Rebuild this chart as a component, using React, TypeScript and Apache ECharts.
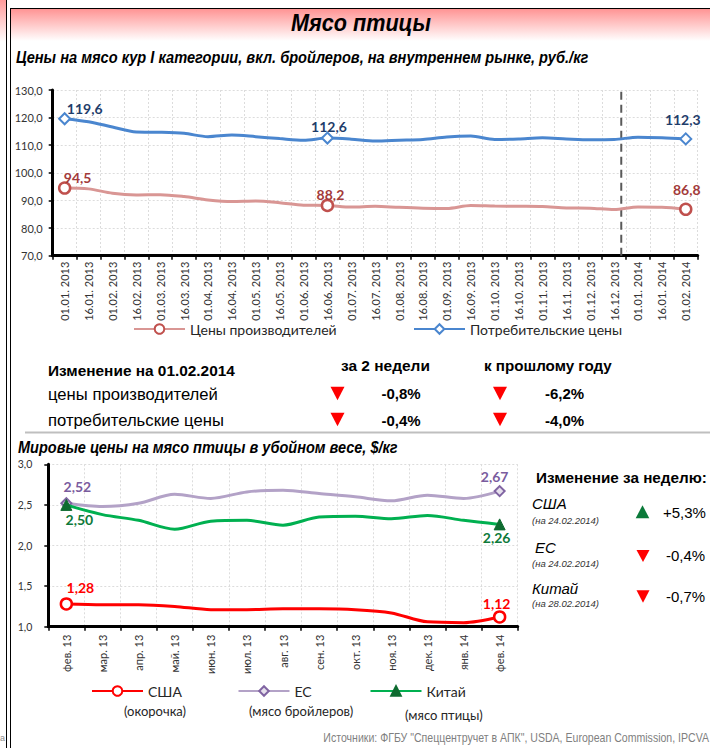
import React, { useEffect, useRef } from 'react';
import * as echarts from 'echarts';

// ---------- DATA ----------
const periodLabels = [
  '01.01. 2013', '16.01. 2013', '01.02. 2013', '16.02. 2013', '01.03. 2013', '16.03. 2013',
  '01.04. 2013', '16.04. 2013', '01.05. 2013', '16.05. 2013', '01.06. 2013', '16.06. 2013',
  '01.07. 2013', '16.07. 2013', '01.08. 2013', '16.08. 2013', '01.09. 2013', '16.09. 2013',
  '01.10. 2013', '16.10. 2013', '01.11. 2013', '16.11. 2013', '01.12. 2013', '16.12. 2013',
  '01.01. 2014', '16.01. 2014', '01.02. 2014',
];
const producerPrices = [
  94.5, 94.2, 92.6, 92.0, 92.1, 91.4, 90.2, 89.6, 89.8, 89.2, 88.3, 88.2, 87.6, 87.9,
  87.5, 87.2, 87.1, 88.2, 88.0, 87.9, 87.8, 87.3, 87.2, 86.7, 87.6, 87.5, 86.8,
];
const consumerPrices = [
  119.6, 118.5, 116.6, 114.8, 114.7, 114.3, 113.1, 113.7, 113.1, 112.4, 111.8, 112.6, 112.2, 111.5,
  111.8, 112.1, 113.0, 113.3, 112.1, 112.3, 112.7, 112.3, 112.0, 112.1, 112.9, 112.7, 112.3,
];
const dividerPosition = 23.8; // between 16.12.2013 and 01.01.2014

const monthLabels = ['фев. 13', 'мар. 13', 'апр. 13', 'май. 13', 'июн. 13', 'июл. 13', 'авг. 13',
  'сен. 13', 'окт. 13', 'ноя. 13', 'дек. 13', 'янв. 14', 'фев. 14'];
const usaPrices = [1.28, 1.27, 1.27, 1.25, 1.21, 1.21, 1.22, 1.22, 1.21, 1.17, 1.06, 1.05, 1.12];
const euPrices = [2.52, 2.48, 2.52, 2.63, 2.58, 2.66, 2.68, 2.64, 2.60, 2.55, 2.62, 2.58, 2.67];
const chinaPrices = [2.50, 2.38, 2.31, 2.20, 2.30, 2.31, 2.25, 2.35, 2.36, 2.33, 2.37, 2.31, 2.26];

const tableHeaders = ['Изменение на 01.02.2014', 'за 2 недели', 'к прошлому году'];
const tableRows = ['цены производителей', 'потребительские цены'];
const twoWeekChange = ['-0,8%', '-0,4%'];
const yearChange = ['-6,2%', '-4,0%'];

const weeklyNames = ['США', 'ЕС', 'Китай'];
const weeklyDates = ['(на 24.02.2014)', '(на 24.02.2014)', '(на 28.02.2014)'];
const weeklyChange = ['+5,3%', '-0,4%', '-0,7%'];

// ---------- STYLE ----------
const ARIAL = '"Liberation Sans", Arial, sans-serif';
const CAL = 'Lato, "Open Sans", sans-serif';

let measureCtx: CanvasRenderingContext2D | null = null;
function measure(text: string, font: string) {
  if (!measureCtx) measureCtx = document.createElement('canvas').getContext('2d');
  measureCtx!.font = font;
  return measureCtx!.measureText(text).width;
}

function txt(text: string, x: number, y: number, o: any) {
  const family = o.family || ARIAL;
  const weight = o.weight || 'normal';
  const fstyle = o.style || 'normal';
  let scaleX = 1;
  if (o.width) {
    const w = measure(text, `${fstyle} ${weight} ${o.size}px ${family}`);
    if (w > 0) scaleX = o.width / w;
  }
  const align = o.align || 'left';
  return {
    type: 'text', x, y, scaleX, silent: true, z: 10,
    style: {
      text, fill: o.color || '#000', fontSize: o.size, fontFamily: family, fontWeight: weight,
      fontStyle: fstyle, textAlign: align, align, textVerticalAlign: 'middle', verticalAlign: 'middle',
    },
  };
}

function tri(cx: number, cy: number, w: number, h: number, up: boolean, color: string) {
  const pts = up
    ? [[cx - w / 2, cy + h / 2], [cx + w / 2, cy + h / 2], [cx, cy - h / 2]]
    : [[cx - w / 2, cy - h / 2], [cx + w / 2, cy - h / 2], [cx, cy + h / 2]];
  return { type: 'polygon', silent: true, z: 10, shape: { points: pts }, style: { fill: color } };
}

function fmt(v: number, d: number) {
  return v.toFixed(d).replace('.', ',');
}

function buildData(values: number[], marks: Record<number, number[]>, color: string, digits: number) {
  return values.map((v, i) =>
    marks[i]
      ? {
          value: v,
          label: {
            show: true, position: 'inside', offset: marks[i], color, fontFamily: CAL,
            fontWeight: 'bold', fontSize: 14, textBorderWidth: 0,
            formatter: (p: any) => fmt(p.value, digits),
          },
        }
      : { value: v, symbol: 'none' }
  );
}

const axisLabelStyle = { color: '#333', fontFamily: CAL };

export default function App() {
  const ref = useRef<HTMLDivElement>(null);

  useEffect(() => {
    const chart = echarts.init(ref.current!, null, { renderer: 'svg' });

    const legendBase = {
      padding: 0, itemGap: 0, itemWidth: 51, itemHeight: 12,
      textStyle: { fontFamily: CAL, fontSize: 14, color: '#262626' },
      selectedMode: false,
    };

    const graphics: any[] = [
      // neighbouring page strip and frame
      {
        type: 'rect', silent: true, shape: { x: 0, y: 0, width: 6, height: 42 },
        style: { fill: new echarts.graphic.LinearGradient(0, 0, 0, 1, [
          { offset: 0, color: '#ff9a9a' }, { offset: 1, color: '#ffffff' }]) },
      },
      {
        type: 'rect', silent: true, shape: { x: 11, y: 9, width: 699, height: 32 },
        style: { fill: new echarts.graphic.LinearGradient(0, 0, 0, 1, [
          { offset: 0, color: '#ff9494' }, { offset: 1, color: '#ffffff' }]) },
      },
      { type: 'line', silent: true, shape: { x1: 6.5, y1: 0, x2: 6.5, y2: 748 }, style: { stroke: '#000', lineWidth: 1 } },
      { type: 'line', silent: true, shape: { x1: 10.5, y1: 8, x2: 10.5, y2: 748 }, style: { stroke: '#000', lineWidth: 1 } },
      { type: 'line', silent: true, shape: { x1: 10, y1: 8.5, x2: 710, y2: 8.5 }, style: { stroke: '#000', lineWidth: 1.2 } },
      // separator
      { type: 'line', silent: true, shape: { x1: 25, y1: 432.5, x2: 710, y2: 432.5 }, style: { stroke: '#bfbfbf', lineWidth: 2 } },
      txt('а', 0, 738, { size: 9, color: '#8c8c8c' }),
      // titles
      txt('Мясо птицы', 361, 23, { size: 23, weight: 'bold', style: 'italic', align: 'center', width: 140 }),
      txt('Цены на мясо кур I категории, вкл. бройлеров, на внутреннем рынке, руб./кг', 16, 57,
        { size: 17, weight: 'bold', style: 'italic', width: 573 }),
      txt('Мировые цены на мясо птицы в убойном весе, $/кг', 18, 447,
        { size: 16, weight: 'bold', style: 'italic', width: 380 }),
      // table
      txt(tableHeaders[0], 48, 371, { size: 15, weight: 'bold', width: 187 }),
      txt(tableHeaders[1], 341, 366, { size: 15, weight: 'bold', width: 89 }),
      txt(tableHeaders[2], 484, 366, { size: 15, weight: 'bold', width: 128 }),
      txt(tableRows[0], 48, 394, { size: 16, width: 170 }),
      txt(tableRows[1], 48, 420, { size: 16, width: 176 }),
      tri(337.5, 393.5, 14, 13.5, false, '#ff0000'),
      tri(337.5, 419.5, 14, 13.5, false, '#ff0000'),
      tri(500, 393.5, 14, 13.5, false, '#ff0000'),
      tri(500, 419.5, 14, 13.5, false, '#ff0000'),
      txt(twoWeekChange[0], 401, 393, { size: 15, weight: 'bold', align: 'center' }),
      txt(twoWeekChange[1], 401, 420, { size: 15, weight: 'bold', align: 'center' }),
      txt(yearChange[0], 564.5, 393, { size: 15, weight: 'bold', align: 'center' }),
      txt(yearChange[1], 564.5, 420, { size: 15, weight: 'bold', align: 'center' }),
      // weekly change panel
      txt('Изменение за неделю:', 536, 478, { size: 15, weight: 'bold', width: 171 }),
      txt(weeklyNames[0], 532, 503, { size: 15, style: 'italic' }),
      txt(weeklyDates[0], 532, 520, { size: 9.5, style: 'italic', color: '#333' }),
      txt(weeklyNames[1], 535, 547, { size: 15, style: 'italic' }),
      txt(weeklyDates[1], 532, 563.5, { size: 9.5, style: 'italic', color: '#333' }),
      txt(weeklyNames[2], 532, 588, { size: 15, style: 'italic' }),
      txt(weeklyDates[2], 532, 603.5, { size: 9.5, style: 'italic', color: '#333' }),
      tri(642.5, 511.7, 13.6, 13, true, '#0b7a3a'),
      tri(643, 556, 13, 12, false, '#ff0000'),
      tri(643, 596.5, 13, 12.5, false, '#ff0000'),
      txt(weeklyChange[0], 663, 512, { size: 15 }),
      txt(weeklyChange[1], 666, 555, { size: 15 }),
      txt(weeklyChange[2], 666, 596, { size: 15 }),
      // legend sub-captions
      txt('(окорочка)', 124, 711, { size: 13, family: CAL, color: '#262626' }),
      txt('(мясо бройлеров)', 249, 711, { size: 13, family: CAL, color: '#262626' }),
      txt('(мясо птицы)', 405, 715, { size: 13, family: CAL, color: '#262626' }),
      // source
      txt('Источники: ФГБУ "Спеццентручет в АПК", USDA, European Commission, IPCVA', 709, 738,
        { size: 12, color: '#7f7f7f', align: 'right', width: 386 }),
    ];

    const splitDashed = { show: true, lineStyle: { color: '#dcdcdc', type: [2, 2], width: 1 } };

    const option: any = {
      animation: false,
      backgroundColor: '#fff',
      graphic: { elements: graphics },
      legend: [
        { ...legendBase, data: ['Цены производителей'], left: 133, top: 322 },
        { ...legendBase, data: ['Потребительские цены'], left: 413, top: 322 },
        { ...legendBase, data: ['США'], left: 91, top: 684 },
        { ...legendBase, data: ['ЕС'], left: 237.5, top: 684 },
        { ...legendBase, data: ['Китай'], left: 369.5, top: 684 },
      ],
      grid: [
        { left: 52.7, right: 12.3, top: 90, height: 165.7 },
        { left: 48.3, right: 192.3, top: 464.3, height: 162.4 },
      ],
      xAxis: [
        {
          type: 'category', gridIndex: 0, data: periodLabels, boundaryGap: true,
          axisLine: { lineStyle: { color: '#000', width: 3 } },
          axisTick: { show: true, interval: 0, length: 4, lineStyle: { color: '#000', width: 1.5 } },
          axisLabel: { ...axisLabelStyle, interval: 0, rotate: 90, fontSize: 11, margin: 6 },
          splitLine: { ...splitDashed, interval: 0 },
        },
        {
          type: 'category', gridIndex: 1, data: monthLabels, boundaryGap: true,
          axisLine: { lineStyle: { color: '#000', width: 3 } },
          axisTick: { show: true, interval: 0, length: 4, lineStyle: { color: '#000', width: 1.5 } },
          axisLabel: { ...axisLabelStyle, interval: 0, rotate: 90, fontSize: 11, margin: 8 },
          splitLine: { ...splitDashed, interval: 0 },
        },
        { type: 'value', gridIndex: 0, min: 0, max: periodLabels.length, show: false },
      ],
      yAxis: [
        {
          type: 'value', gridIndex: 0, min: 70, max: 130, interval: 10,
          axisLine: { show: true, lineStyle: { color: '#000', width: 3 } },
          axisTick: { show: true, length: 4, lineStyle: { color: '#000', width: 1.5 } },
          axisLabel: { ...axisLabelStyle, fontSize: 11, margin: 10, formatter: (v: number) => fmt(v, 1) },
          splitLine: splitDashed,
        },
        {
          type: 'value', gridIndex: 1, min: 1, max: 3, interval: 0.5,
          axisLine: { show: true, lineStyle: { color: '#000', width: 3 } },
          axisTick: { show: true, length: 4, lineStyle: { color: '#000', width: 1.5 } },
          axisLabel: { ...axisLabelStyle, fontSize: 10.5, margin: 16, formatter: (v: number) => fmt(v, 1) },
          splitLine: splitDashed,
        },
      ],
      series: [
        {
          name: 'Цены производителей', type: 'line', xAxisIndex: 0, yAxisIndex: 0, smooth: 0.3,
          symbol: 'circle', symbolSize: 11, showSymbol: true,
          lineStyle: { color: '#d99694', width: 3 },
          itemStyle: { color: '#ffffff', borderColor: '#c0504d', borderWidth: 2.5 },
          data: buildData(producerPrices, { 0: [13, -11], 11: [3, -11], 26: [1, -20] }, '#a33a3a', 1),
          z: 3,
        },
        {
          name: 'Потребительские цены', type: 'line', xAxisIndex: 0, yAxisIndex: 0, smooth: 0.3,
          symbol: 'diamond', symbolSize: 11, showSymbol: true,
          lineStyle: { color: '#4a86cf', width: 3 },
          itemStyle: { color: '#ffffff', borderColor: '#4a86cf', borderWidth: 2 },
          data: buildData(consumerPrices, { 0: [20, -10], 11: [1.5, -12], 26: [-3, -19] }, '#1f3d6b', 1),
          z: 3,
        },
        {
          name: 'divider', type: 'line', xAxisIndex: 2, yAxisIndex: 0, symbol: 'none', silent: true,
          lineStyle: { color: '#595959', width: 2, type: [8, 5] },
          data: [[dividerPosition, 70], [dividerPosition, 130]],
          z: 2,
        },
        {
          name: 'США', type: 'line', xAxisIndex: 1, yAxisIndex: 1, smooth: 0.3,
          symbol: 'circle', symbolSize: 11, showSymbol: true,
          lineStyle: { color: '#ff0000', width: 3 },
          itemStyle: { color: '#ffffff', borderColor: '#ff0000', borderWidth: 2.5 },
          data: buildData(usaPrices, { 0: [14, -16], 12: [-3, -13] }, '#ff0000', 2),
          z: 3,
        },
        {
          name: 'ЕС', type: 'line', xAxisIndex: 1, yAxisIndex: 1, smooth: 0.3,
          symbol: 'diamond', symbolSize: 10, showSymbol: true,
          lineStyle: { color: '#b3a2c7', width: 3 },
          itemStyle: { color: '#e6e0ec', borderColor: '#8064a2', borderWidth: 2 },
          data: buildData(euPrices, { 0: [11, -17], 12: [-5, -15] }, '#7a5c9e', 2),
          z: 3,
        },
        {
          name: 'Китай', type: 'line', xAxisIndex: 1, yAxisIndex: 1, smooth: 0.3,
          symbol: 'triangle', symbolSize: 11, showSymbol: true,
          lineStyle: { color: '#00b050', width: 3 },
          itemStyle: { color: '#0e6b30', borderColor: '#0e6b30', borderWidth: 1 },
          data: buildData(chinaPrices, { 0: [13, 15], 12: [-3, 13] }, '#0e7a3a', 2),
          z: 4,
        },
      ],
    };

    chart.setOption(option);
    return () => chart.dispose();
  }, []);

  return (
    <div
      ref={ref}
      style={{ position: 'absolute', left: 0, top: 0, width: 710, height: 748, background: '#fff' }}
    />
  );
}
